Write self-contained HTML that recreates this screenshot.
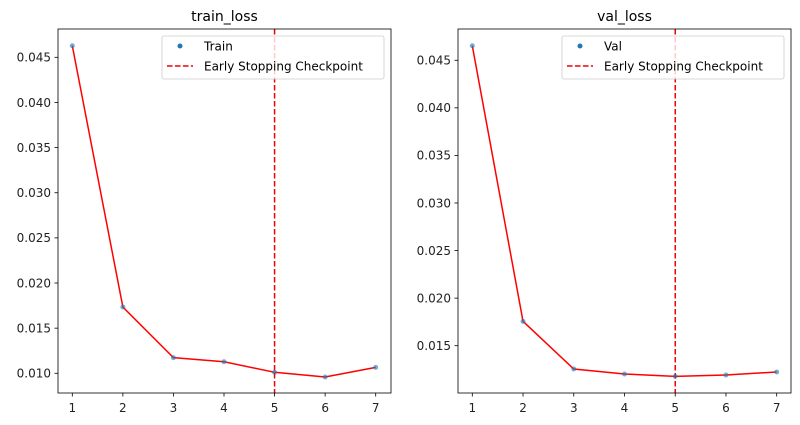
<!DOCTYPE html>
<html><head><meta charset="utf-8"><style>
html,body{margin:0;padding:0;background:#fff;}
svg{display:block;font-family:"DejaVu Sans","Liberation Sans",sans-serif;}
</style></head><body>
<svg id="chart" width="800" height="425" viewBox="0 0 800 425"></svg>
<script>
const epochs = [1,2,3,4,5,6,7];
const trainLoss = [0.04628,0.01734,0.01173,0.01128,0.01011,0.00959,0.01066];
const valLoss = [0.04653,0.01756,0.01255,0.01203,0.01178,0.01192,0.01224];
const trainTicks = [0.010,0.015,0.020,0.025,0.030,0.035,0.040,0.045];
const valTicks = [0.015,0.020,0.025,0.030,0.035,0.040,0.045];
const checkpointEpoch = 5;

const NS='http://www.w3.org/2000/svg';
const svg=document.getElementById('chart');
function mk(tag,attrs,parent){const e=document.createElementNS(NS,tag);for(const k in attrs)e.setAttribute(k,attrs[k]);(parent||svg).appendChild(e);return e;}

function panel(cfg){
  const g=mk('g',{});
  
  
  const L=cfg.left,R=cfg.right,T=29,B=393;
  const xs=v=>cfg.x1px+(v-1)*(cfg.x7px-cfg.x1px)/6;
  const ys=v=>cfg.yRefPx+(cfg.yRefVal-v)*cfg.pxPerUnit;
  const t=mk('text',{x:(L+R)/2,y:21,'text-anchor':'middle','font-size':14,fill:'#000'},g);
  t.textContent=cfg.title;
  
  
  epochs.forEach(e=>{
    const x=xs(e);
    mk('line',{x1:x,x2:x,y1:B,y2:B+3.5,stroke:'#000','stroke-width':0.8},g);
    const tx=mk('text',{x:x,y:B+19,'text-anchor':'middle','font-size':12,fill:'#222'},g);
    tx.textContent=e;
    
    
  });
  cfg.ticks.forEach(v=>{
    const y=ys(v);
    mk('line',{x1:L-3.5,x2:L,y1:y,y2:y,stroke:'#000','stroke-width':0.8},g);
    const ty=mk('text',{x:L-7,y:y+4.3,'text-anchor':'end','font-size':12,fill:'#222'},g);
    ty.textContent=v.toFixed(3);
    
    
  });
  const cx=xs(checkpointEpoch);
  const cl=mk('line',{x1:cx,x2:cx,y1:T,y2:B,stroke:'#e00','stroke-width':1.5,'stroke-dasharray':'5.5,2.5'},g);
  
  
  const pts=cfg.data.map((v,i)=>xs(epochs[i])+','+ys(v)).join(' ');
  const pl=mk('polyline',{points:pts,fill:'none',stroke:'#f00','stroke-width':1.5},g);
  
  
  cfg.data.forEach((v,i)=>{
    const c=mk('circle',{cx:xs(epochs[i]),cy:ys(v),r:2.5,fill:'#1f77b4','fill-opacity':0.6},g);
    
    
  });
  mk('rect',{x:L,y:T,width:R-L,height:B-T,fill:'none',stroke:'#000','stroke-width':0.8},g);
  const lg=mk('g',{},g);
  
  
  const lx=L+104,ly=36;
  mk('rect',{x:lx,y:ly,width:222,height:43,rx:2,fill:'#fff','fill-opacity':0.8,stroke:'#ccc','stroke-width':0.8},lg);
  mk('circle',{cx:lx+18,cy:ly+10,r:2.5,fill:'#1f77b4'},lg);
  const l1=mk('text',{x:lx+42,y:ly+14.5,'font-size':12,fill:'#000'},lg);
  l1.textContent=cfg.label;
  
  
  mk('line',{x1:lx+5,x2:lx+31,y1:ly+30,y2:ly+30,stroke:'#e00','stroke-width':1.5,'stroke-dasharray':'5.5,2.5'},lg);
  const l2=mk('text',{x:lx+42,y:ly+34.5,'font-size':12,fill:'#000'},lg);
  l2.textContent='Early Stopping Checkpoint';
  
  
}
panel({name:'train-loss-panel',title:'train_loss',label:'Train',data:trainLoss,ticks:trainTicks,
  left:58,right:391,x1px:72.3,x7px:375.7,yRefVal:0.010,yRefPx:373.3,pxPerUnit:45.14/0.005});
panel({name:'val-loss-panel',title:'val_loss',label:'Val',data:valLoss,ticks:valTicks,
  left:458,right:791,x1px:472.3,x7px:776.7,yRefVal:0.015,yRefPx:345.7,pxPerUnit:47.57/0.005});
</script>
</body></html>
